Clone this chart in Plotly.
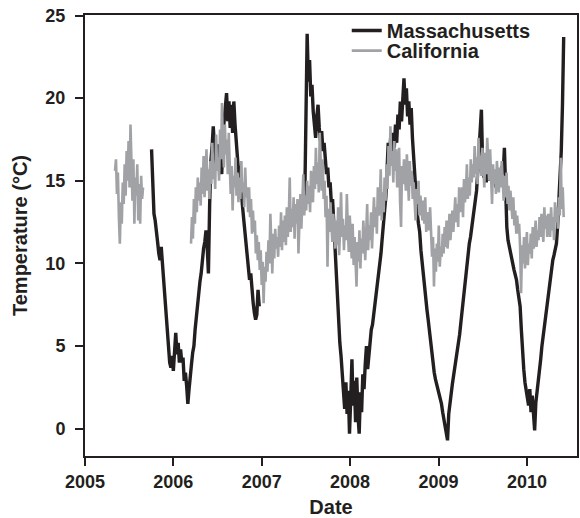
import pandas as pd
import plotly.graph_objects as go

# ---------------- data ----------------
series_names = ["Massachusetts", "California"]

# California (grey), 4-day samples
ca_seg1_start = "2005-05-05"
ca_seg1 = [15.6, 16.3, 14.2, 15.5, 12.8, 11.2, 13.7, 12.4, 14.9, 13.6,
           16.0, 14.1, 16.8, 15.0, 17.4, 14.6, 18.4, 15.7, 13.8, 16.3,
           12.4, 15.2, 14.1, 16.0, 12.6, 14.8, 12.4, 15.3, 13.9, 14.6]
ca_seg2_start = "2006-03-15"
ca_seg2 = [11.2, 12.8, 11.5, 13.9, 12.4, 14.6, 13.1, 15.2, 13.8, 14.9,
           13.5, 15.8, 14.2, 16.5, 14.0, 15.3, 16.9, 14.4, 15.7, 13.9,
           16.2, 14.8, 17.3, 15.1, 16.0, 14.5, 17.8, 15.6, 16.4, 15.0,
           18.1, 16.3, 19.7, 17.0, 15.8, 18.4, 16.6, 17.5, 15.4, 17.9,
           16.1, 14.2, 15.9, 13.2, 15.3, 14.6, 16.4, 14.1, 15.5, 13.7,
           15.2, 13.9, 16.2, 14.3, 14.9, 13.4, 15.8, 14.0, 14.6, 13.1,
           14.6, 12.8, 13.9, 11.8, 13.2, 11.9, 12.6, 10.6, 11.7, 10.2,
           11.3, 9.6, 10.8, 8.7, 10.1, 7.6, 9.8, 8.9, 10.7, 9.5,
           11.4, 10.0, 13.0, 10.5, 9.4, 11.8, 10.3, 12.1, 10.9, 11.6,
           10.4, 12.3, 11.0, 13.1, 10.8, 12.6, 11.3, 12.9, 11.1, 13.4,
           11.6, 12.8, 15.2, 11.9, 13.3, 12.2, 14.0, 11.5, 13.6, 12.4,
           13.9, 10.6, 12.8, 14.2, 12.1, 13.5, 15.4, 12.9, 14.1, 13.2,
           15.0, 13.6, 14.7, 13.1, 15.6, 14.2, 13.7, 15.9, 14.5, 17.0,
           14.8, 16.1, 14.3, 17.9, 15.2, 14.4, 16.3, 13.9, 15.0, 12.8,
           14.1, 9.8, 13.3, 11.9, 13.7, 12.2, 11.3, 13.0, 12.2, 10.9,
           12.6, 11.1, 13.4, 10.5, 12.0, 14.3, 11.6, 12.7, 10.8, 12.3,
           11.4, 14.2, 12.1, 10.7, 12.9, 11.2, 10.3, 12.4, 9.9, 11.6,
           10.4, 8.6, 11.3, 10.1, 12.0, 9.7, 11.5, 10.6, 12.6, 11.0,
           10.2, 11.9, 13.6, 10.8, 12.3, 11.4, 13.1, 10.9, 12.7, 14.0,
           12.2, 13.4, 11.8, 14.6, 12.9, 13.5, 15.7, 12.6, 14.3, 13.1,
           15.2, 13.8, 16.0, 14.5, 17.1, 15.3, 18.3, 15.9, 16.8, 14.9,
           17.4, 15.6, 16.9, 14.6, 15.8, 17.0, 13.7, 12.2, 15.9, 14.8,
           16.3, 15.1, 14.4, 16.6, 15.0, 13.8, 16.2, 14.7, 15.6, 13.9,
           14.9, 13.3, 12.6, 14.5, 13.6, 15.0, 12.9, 14.1, 13.2, 12.6,
           13.8, 12.4, 14.0, 11.9, 13.1, 12.6, 12.0, 13.4, 11.5, 10.4,
           11.6, 8.6, 10.9, 9.5, 11.2, 10.1, 12.3, 9.8, 11.0, 10.4,
           11.8, 10.6, 12.2, 11.0, 12.6, 10.9, 11.7, 13.0, 11.4, 12.6,
           13.2, 11.9, 12.8, 14.0, 12.5, 13.6, 12.2, 14.6, 13.1, 13.8,
           14.6, 12.8, 15.1, 13.7, 14.4, 16.0, 13.9, 15.2, 14.1, 16.3,
           14.9, 16.0, 15.2, 17.1, 15.4, 16.4, 14.8, 17.6, 15.7, 16.5,
           15.3, 17.0, 15.9, 14.6, 16.7, 15.4, 17.6, 16.1, 15.0, 16.9,
           15.4, 13.6, 16.0, 14.8, 15.7, 14.2, 16.2, 15.1, 14.3, 15.8,
           14.6, 16.2, 14.9, 13.8, 15.3, 14.0, 15.5, 13.6, 14.7, 13.2,
           14.4, 13.6, 12.7, 14.0, 12.3, 13.2, 11.8, 12.9, 11.8, 12.4,
           10.9, 8.2, 11.1, 10.0, 11.6, 9.7, 10.6, 11.9, 9.9, 11.2,
           10.6, 11.8, 10.3, 12.2, 10.9, 11.5, 12.6, 11.0, 12.0, 11.4,
           12.8, 11.6, 13.0, 12.2, 11.3, 13.4, 12.1, 12.9, 11.6, 13.0,
           12.3, 11.6, 13.4, 12.0, 12.8, 11.4, 13.7, 12.5, 13.4, 12.1,
           14.0, 12.9, 16.4, 13.3, 14.6, 12.8]
ca_step_days = 4

# Massachusetts (black), 5-day samples
ma_seg1_start = "2005-10-03"
ma_seg1 = [16.9, 14.2, 13.0, 12.6, 11.6, 11.3, 10.6, 10.2, 11.0, 9.9,
           9.0, 8.2, 7.0, 6.0, 5.0, 4.0, 3.7, 4.4, 3.5, 4.6,
           5.8, 4.5, 5.2, 4.0, 4.8, 4.0, 4.3, 2.9, 3.4, 2.6,
           1.5, 2.4, 3.4, 3.9, 4.6, 5.0, 6.0, 6.8, 7.6, 8.3,
           8.9, 9.4, 10.3, 10.9, 11.3, 12.0, 11.0, 9.4, 13.5, 16.2,
           17.0, 18.3, 17.0, 16.4, 15.6, 17.2, 15.8, 16.6, 15.4, 17.8,
           18.7, 19.5, 20.3, 18.6, 19.8, 18.2, 19.6, 17.9, 19.8, 18.4,
           17.3, 16.8, 15.4, 15.9, 14.4, 13.6, 12.8, 12.0, 11.2, 10.5,
           9.6, 9.0, 9.4, 8.2, 7.6, 7.0, 6.6, 6.9, 8.4, 7.4]
ma_seg2_start = "2007-06-28"
ma_seg2 = [13.8, 18.5, 23.9, 21.0, 22.3, 20.1, 20.8, 19.2, 18.3, 17.6,
           18.9, 19.6, 18.2, 17.4, 18.0, 16.8, 17.3, 16.2, 15.4, 15.8,
           14.6, 14.9, 13.6, 13.9, 12.4, 10.8, 9.0, 7.6, 6.4, 5.2,
           4.4, 3.4, 2.4, 1.2, 2.8, 0.9, 2.3, -0.3, 1.8, 4.2,
           1.4, 2.9, 0.4, 3.1, 0.8, -0.3, 2.2, 1.0, 3.3, 2.4,
           3.9, 5.0, 3.6, 4.6, 5.4, 6.0, 6.3, 6.9, 7.6, 8.2,
           8.8, 9.3, 9.8, 10.6, 11.5, 12.6, 13.2, 14.0, 15.8, 17.3,
           16.4, 17.6, 16.6, 17.9, 17.0, 18.4, 17.3, 19.0, 18.1, 19.8,
           18.6, 20.4, 21.2, 19.6, 20.6, 18.9, 19.8, 18.4, 19.4, 17.6,
           16.4, 14.6, 13.8, 13.0, 12.4, 11.9, 10.8, 10.0, 9.2, 8.4,
           7.8, 7.2, 6.6, 5.9, 5.2, 4.6, 3.9, 3.4, 3.0, 2.7,
           2.4, 2.2, 1.9, 1.5, 1.0, 0.5, 0.1, -0.5, -0.7, 0.9,
           1.6, 2.1, 2.7, 3.2, 3.7, 4.1, 4.5, 5.0, 5.7, 6.4,
           7.1, 7.8, 8.6, 9.3, 10.0, 10.7, 11.2, 11.6, 12.1, 12.6,
           13.2, 13.8, 14.4, 15.6, 17.2, 18.7, 19.3, 16.0, 15.2, 15.8,
           14.9, 15.6, 15.0, 16.0, 15.1, 15.7, 14.8, 15.4, 14.6, 15.2,
           14.8, 15.6, 15.0, 15.9, 15.4, 17.0, 14.0, 12.2, 11.4, 11.0,
           10.7, 10.3, 9.9, 9.6, 9.3, 9.0, 8.4, 8.0, 7.4, 6.0,
           4.6, 3.6, 2.8, 2.2, 1.8, 1.4, 2.4, 1.0, 2.0, 0.6,
           -0.1, 1.6, 2.2, 2.7, 3.5, 4.2, 5.0, 5.6, 6.3, 6.9,
           7.6, 8.2, 8.8, 9.3, 9.8, 10.2, 10.5, 10.8, 11.2, 12.3,
           13.6, 14.8, 16.8, 19.6, 23.7]
ma_step_days = 5

x_tick_vals = ["2005-01-01", "2006-01-01", "2007-01-01", "2008-01-01", "2009-01-01", "2010-01-01"]
x_tick_text = ["2005", "2006", "2007", "2008", "2009", "2010"]
y_tick_vals = [0, 5, 10, 15, 20, 25]


def build(segments, step):
    xs, ys = [], []
    for start, vals in segments:
        dates = pd.date_range(start, periods=len(vals), freq=f"{step}D")
        if xs:
            xs.append(None)
            ys.append(None)
        xs.extend(list(dates))
        ys.extend(vals)
    return xs, ys


ma_x, ma_y = build([(ma_seg1_start, ma_seg1), (ma_seg2_start, ma_seg2)], ma_step_days)
ca_x, ca_y = build([(ca_seg1_start, ca_seg1), (ca_seg2_start, ca_seg2)], ca_step_days)

INK = "#231f20"
GREY = "#a1a2a5"
FONT = "Liberation Sans, Arial, sans-serif"

fig = go.Figure()
fig.add_trace(go.Scatter(x=ma_x, y=ma_y, mode="lines", name=series_names[0],
                         line=dict(color=INK, width=3.4), connectgaps=False,
                         legend="legend"))
fig.add_trace(go.Scatter(x=ca_x, y=ca_y, mode="lines", name=series_names[1],
                         line=dict(color=GREY, width=2.6), connectgaps=False,
                         legend="legend2"))

legend_common = dict(xanchor="left", yanchor="top", bgcolor="rgba(0,0,0,0)", borderwidth=0,
                     font=dict(family=FONT, size=20, color=INK, weight="bold"))

fig.update_layout(
    width=580, height=518,
    margin=dict(l=85, r=3, t=15, b=62),
    paper_bgcolor="white", plot_bgcolor="white",
    font=dict(family=FONT, color=INK, size=18, weight="bold"),
    showlegend=True,
    legend=dict(x=0.532, y=1.009, **legend_common),
    legend2=dict(x=0.532, y=0.9635, **legend_common),
)
fig.update_xaxes(
    type="date", automargin=False,
    range=["2005-01-01", "2010-07-27"],
    tickvals=x_tick_vals, ticktext=x_tick_text,
    ticks="outside", ticklen=8, tickwidth=2, tickcolor=INK,
    showline=True, linewidth=2, linecolor=INK, mirror=True,
    showgrid=False, zeroline=False,
    tickfont=dict(family=FONT, size=18, color=INK, weight="bold"),
    title=dict(text="Date", font=dict(family=FONT, size=20, color=INK, weight="bold"), standoff=10),
)
fig.update_yaxes(
    automargin=False,
    range=[-1.65, 25.03],
    tickvals=y_tick_vals,
    ticks="outside", ticklen=8, tickwidth=2, tickcolor=INK,
    showline=True, linewidth=2, linecolor=INK, mirror=True,
    showgrid=False, zeroline=False, ticklabelstandoff=6,
    tickfont=dict(family=FONT, size=18, color=INK, weight="bold"),
    title=dict(text="Temperature (°C)", font=dict(family=FONT, size=20, color=INK, weight="bold"), standoff=12),
)

# remove the browser's default 8px page margin so the figure sits at the window's corner
fig.write_html("out.html", config={"displayModeBar": False},
               post_script="document.body.style.margin='0px';")
